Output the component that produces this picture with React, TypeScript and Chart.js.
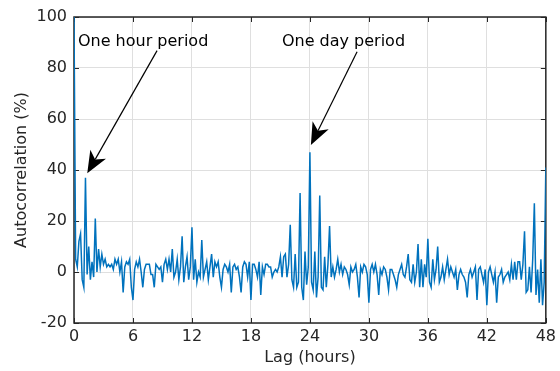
import { useEffect, useRef } from 'react';
import { Chart, registerables } from 'chart.js';

Chart.register(...registerables);

// Autocorrelation of the load signal, sampled every 10 minutes of lag.
const STEP_HOURS = 1 / 6;

// One row per hour of lag (six 10-minute samples each), final value at 48 h.
const autocorrPct: number[] = [
  100, 5, 2, 12, 15, -3, // 0 h
  -6, 37, -1, 10, -3, 4, // 1 h
  -2, 21, 0, 9, 2, 7, // 2 h
  3, 5, 2, 3, 2, 3, // 3 h
  1, 5, 3, 5, 0, 4, // 4 h
  -8, 2, 4, 3, 5, -6, // 5 h
  -11, 1, 4, 2, 5, 0, // 6 h
  -6, 1, 3, 3, 3, -1, // 7 h
  -1, -6, 3, 2, 1, 2, // 8 h
  -4, 3, 5, 1, 5, 0, // 9 h
  9, -2, 0, 5, -3, 2, // 10 h
  14, -4, 2, 6, -3, 2, // 11 h
  17.5, -3, 5, -4, 0, -2, // 12 h
  12.5, -2, 1, 4, -3, 2, // 13 h
  7, -2, 4, 2, 4, -2, // 14 h
  -6, 1, 3, 2, 0, 3, // 15 h
  -8, 2, 3, 1, 2, -2, // 16 h
  -8, 2, 4, 3, -2, 4, // 17 h
  -11, 3, 3, 1, -2, 4, // 18 h
  -9, 2, -1, 3, 3, 2, // 19 h
  2, -2, 0, 1, 0, 2, // 20 h
  6, -2, 6, 7, -2, 3, // 21 h
  18.5, -3, -6, 7, -6, -4, // 22 h
  31, -6, -11, 8, -5, 2, // 23 h
  47, -4, -7, 8, -10, -2, // 24 h
  30, -6, -7, 6, -6, 3, // 25 h
  18, -2, 2, -2, 1, 5, // 26 h
  0, 3, -1, 2, 1, -1, // 27 h
  -5, 2, 0, 1, 3, -2, // 28 h
  -10, 2, 0, 3, 2, -1, // 29 h
  -12, 1, 3, 0, 3, -1, // 30 h
  -9, 1, -1, 2, 1, -2, // 31 h
  -7, 1, 1, -1, -3, -6, // 32 h
  -1, 1, 3, -1, -2, 2, // 33 h
  7, -3, -4, 3, -4, 0, // 34 h
  11, -6, 5, -6, 3, -2, // 35 h
  13, -4, -6, 5, -3, 1, // 36 h
  10, -4, -2, 2, -3, 1, // 37 h
  5, -1, 2, 0, -2, 1, // 38 h
  -7, -1, 1, -1, -2, -4, // 39 h
  -10, -1, 1, -2, 0, 2, // 40 h
  -11, 1, 2, -1, -4, 1, // 41 h
  -13, 0, 2, -1, -4, 0, // 42 h
  -12, -2, -1, 1, -4, -2, // 43 h
  -1, 0, -3, 3, -3, 4, // 44 h
  -3, 4, 4, -3, 3, 16, // 45 h
  -8, -7, 2, -8, 5, 27, // 46 h
  -9, 1, -12, 5, -13, -4, // 47 h
  41, // 48 h
];

const lagHours: number[] = autocorrPct.map((_, i) => i * STEP_HOURS);

const xTickValues = [0, 6, 12, 18, 24, 30, 36, 42, 48];
const yTickValues = [-20, 0, 20, 40, 60, 80, 100];

const xTitle = 'Lag (hours)';
const yTitle = 'Autocorrelation (%)';

// Text callouts with arrows, placed in data coordinates [hours, %].
const callouts = [
  { text: 'One hour period', at: [0.4, 88.6], tail: [8.45, 86.8], tip: [1.35, 38.7] },
  { text: 'One day period', at: [21.15, 88.6], tail: [28.8, 86.4], tip: [24.1, 49.8] },
];

const FONT = "'DejaVu Sans', 'Liberation Sans', sans-serif";
const AXIS_COLOR = '#262626';
const GRID_COLOR = '#dfdfdf';
const LINE_COLOR = '#0072BD';
const TICK_LEN = 5;

const boxPlugin = {
  id: 'axesBox',
  beforeDatasetsDraw(chart: any) {
    const { ctx, chartArea: a, scales } = chart;
    const x = scales.x;
    const y = scales.y;
    ctx.save();
    ctx.strokeStyle = AXIS_COLOR;
    ctx.lineWidth = 1;
    ctx.beginPath();
    for (const t of xTickValues) {
      const px = Math.round(x.getPixelForValue(t)) + 0.5;
      ctx.moveTo(px, a.bottom);
      ctx.lineTo(px, a.bottom - TICK_LEN);
      ctx.moveTo(px, a.top);
      ctx.lineTo(px, a.top + TICK_LEN);
    }
    for (const t of yTickValues) {
      const py = Math.round(y.getPixelForValue(t)) + 0.5;
      ctx.moveTo(a.left, py);
      ctx.lineTo(a.left + TICK_LEN, py);
      ctx.moveTo(a.right, py);
      ctx.lineTo(a.right - TICK_LEN, py);
    }
    ctx.stroke();
    ctx.lineWidth = 1.5;
    ctx.strokeRect(a.left, a.top, a.right - a.left, a.bottom - a.top);
    ctx.restore();
  },
};

const calloutPlugin = {
  id: 'callouts',
  afterDatasetsDraw(chart: any) {
    const { ctx, scales } = chart;
    const x = scales.x;
    const y = scales.y;
    ctx.save();
    ctx.fillStyle = '#000';
    ctx.strokeStyle = '#000';
    ctx.font = `16px ${FONT}`;
    ctx.textAlign = 'left';
    ctx.textBaseline = 'alphabetic';
    for (const c of callouts) {
      ctx.fillText(c.text, x.getPixelForValue(c.at[0]), y.getPixelForValue(c.at[1]));
      const tx = x.getPixelForValue(c.tail[0]);
      const ty = y.getPixelForValue(c.tail[1]);
      const hx = x.getPixelForValue(c.tip[0]);
      const hy = y.getPixelForValue(c.tip[1]);
      const len = Math.hypot(hx - tx, hy - ty);
      const ux = (hx - tx) / len;
      const uy = (hy - ty) / len;
      const nx = -uy;
      const ny = ux;
      const headLen = 22;
      const halfW = 9;
      const notch = 16;
      ctx.lineWidth = 1.2;
      ctx.beginPath();
      ctx.moveTo(tx, ty);
      ctx.lineTo(hx - ux * notch, hy - uy * notch);
      ctx.stroke();
      ctx.beginPath();
      ctx.moveTo(hx, hy);
      ctx.lineTo(hx - ux * headLen + nx * halfW, hy - uy * headLen + ny * halfW);
      ctx.lineTo(hx - ux * notch, hy - uy * notch);
      ctx.lineTo(hx - ux * headLen - nx * halfW, hy - uy * headLen - ny * halfW);
      ctx.closePath();
      ctx.fill();
    }
    ctx.restore();
  },
};

export default function App() {
  const canvasRef = useRef<HTMLCanvasElement | null>(null);

  useEffect(() => {
    const canvas = canvasRef.current;
    if (!canvas) return;
    const points = lagHours.map((h, i) => ({ x: h, y: autocorrPct[i] }));
    const chart = new Chart(canvas, {
      type: 'line',
      data: {
        datasets: [
          {
            data: points,
            borderColor: LINE_COLOR,
            borderWidth: 1.5,
            pointRadius: 0,
            tension: 0,
            fill: false,
          },
        ],
      },
      options: {
        animation: false,
        responsive: false,
        devicePixelRatio: 1,
        layout: { padding: { left: 0, top: 17, right: 13, bottom: 0 } },
        plugins: {
          legend: { display: false },
          tooltip: { enabled: false },
        },
        scales: {
          x: {
            type: 'linear',
            min: 0,
            max: 48,
            afterFit: (s: any) => {
              s.height = 48;
            },
            afterBuildTicks: (s: any) => {
              s.ticks = xTickValues.map((v) => ({ value: v }));
            },
            grid: { color: GRID_COLOR, lineWidth: 1, drawTicks: false },
            border: { display: false },
            ticks: {
              padding: 4,
              color: AXIS_COLOR,
              font: { family: FONT, size: 16 },
              maxRotation: 0,
            },
            title: {
              display: true,
              text: xTitle,
              color: AXIS_COLOR,
              font: { family: FONT, size: 16 },
              padding: { top: 0, bottom: 4 },
            },
          },
          y: {
            type: 'linear',
            min: -20,
            max: 100,
            afterFit: (s: any) => {
              s.width = 74;
            },
            afterBuildTicks: (s: any) => {
              s.ticks = yTickValues.map((v) => ({ value: v }));
            },
            grid: { color: GRID_COLOR, lineWidth: 1, drawTicks: false },
            border: { display: false },
            ticks: {
              padding: 7,
              color: AXIS_COLOR,
              font: { family: FONT, size: 16 },
            },
            title: {
              display: true,
              text: yTitle,
              color: AXIS_COLOR,
              font: { family: FONT, size: 16 },
              padding: { top: 12, bottom: 0 },
            },
          },
        },
      },
      plugins: [boxPlugin, calloutPlugin],
    });
    return () => chart.destroy();
  }, []);

  return (
    <div style={{ position: 'absolute', left: 0, top: 0, width: 560, height: 371, background: '#fff' }}>
      <canvas ref={canvasRef} width={560} height={371} />
    </div>
  );
}
